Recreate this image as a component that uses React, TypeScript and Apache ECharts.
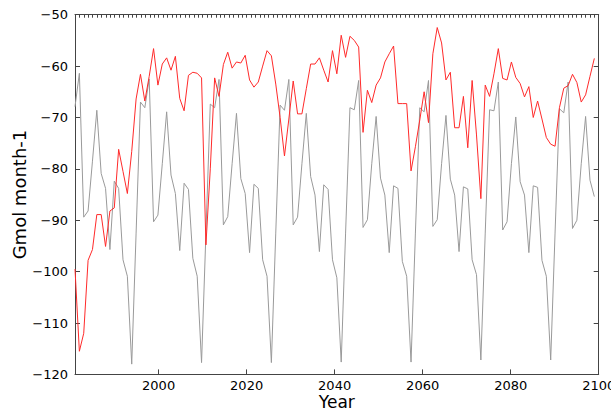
import React, { useEffect, useRef } from "react";
import * as echarts from "echarts";

const START_YEAR = 1981;
const END_YEAR = 2100;

const grayValues = [
  -67.9, -61.4, -89.4, -88.2, -78.5, -68.6, -80.9, -83.8, -95.7, -82.4,
  -83.8, -97.7, -100.9, -118, -92.5, -67, -68.1, -62.5, -90.3, -89,
  -79, -68.9, -81.2, -84.8, -95.9, -82.8, -84, -97.4, -100.9, -117.7,
  -92.5, -67.4, -68.1, -62.6, -90.9, -89.3, -79, -69.2, -81.9, -84.8,
  -96.3, -83, -83.8, -97.7, -100.9, -117.7, -92.5, -67.6, -68.6, -62.6,
  -90.9, -89.4, -79, -69.2, -81.5, -85.1, -96.1, -83.1, -84, -97.7,
  -101.2, -117.6, -92.5, -68.1, -68.5, -62.8, -91.4, -89.9, -79, -69.8,
  -81.8, -85.1, -96.3, -83.3, -83.8, -98, -100.9, -117.6, -92.5, -68.1,
  -68.9, -62.8, -91.2, -89.9, -79, -69.6, -82, -85.1, -96.1, -83.5,
  -83.9, -97.7, -100.6, -117.2, -92.5, -68.5, -68.7, -63.1, -91.9, -90.3,
  -79, -69.9, -82.5, -85.1, -96.3, -83.3, -83.6, -97.8, -100.9, -117.2,
  -92.5, -68.3, -69.1, -63.1, -91.6, -90, -79, -69.8, -82.2, -85.4,
];

const redValues = [
  -99.5, -115.5, -112, -97.8, -95.7, -88.9, -88.9, -95.1, -88.2, -87.6,
  -76.2, -80.5, -84.8, -76.6, -66.4, -61.6, -66.8, -62, -56.6, -63.7,
  -59.6, -58.4, -60.8, -58.1, -66.3, -68.7, -61.8, -61.2, -61.4, -62.3,
  -94.8, -80, -62.3, -65.9, -59.7, -57.3, -60.4, -59.2, -59.4, -57.9,
  -62.7, -64.1, -63.1, -60, -57, -58, -63.5, -70, -77.5, -70.3,
  -62.9, -69.3, -69.3, -64.4, -59.6, -59.6, -58.4, -60.8, -63.1, -57,
  -61.5, -54, -58.3, -54.2, -55, -56.3, -72.9, -64.7, -67.1, -63.7,
  -62.3, -59.2, -57.6, -56.1, -67.3, -67.3, -67.3, -80.4, -75.7, -70.5,
  -65, -71, -57.6, -52.5, -55.5, -62.7, -61.2, -72, -72, -65.9,
  -75.9, -62.8, -73.4, -85.8, -63.7, -65.9, -61.5, -56.6, -62.4, -62.7,
  -59.2, -62.2, -63.4, -66, -64, -70, -66.8, -70.3, -73.9, -75.2,
  -75.6, -68.1, -64.3, -63.8, -61.6, -63.2, -67, -65.6, -62, -58.5,
];

const xTickLabels = [2000, 2020, 2040, 2060, 2080, 2100];
const yMin = -120;
const yMax = -50;
const yStep = 10;

// time stamps of the samples (evenly spaced from START_YEAR, one step short of END_YEAR)
const nPts = grayValues.length;
const years = grayValues.map(
  (_, i) => START_YEAR + (i * (END_YEAR - START_YEAR)) / nPts
);

const FONT = "DejaVu Sans";
const AXIS_COLOR = "#444444";

export default function App() {
  const ref = useRef<HTMLDivElement>(null);
  useEffect(() => {
    if (!ref.current) return;
    const chart = echarts.init(ref.current, undefined, { renderer: "svg" });
    const fmtY = (v: number) => (v < 0 ? "\u2212" + Math.abs(v) : String(v));
    const axisLine = { show: true, lineStyle: { color: AXIS_COLOR, width: 1 } };
    chart.setOption({
      animation: false,
      backgroundColor: "#ffffff",
      textStyle: { fontFamily: FONT },
      grid: {
        left: 75,
        right: 12.3,
        top: 14.7,
        bottom: 38.6,
        containLabel: false,
        outerBoundsMode: "none",
      },
      xAxis: [
        {
          type: "value",
          position: "bottom",
          min: START_YEAR,
          max: END_YEAR,
          axisLine,
          axisTick: {
            show: true,
            inside: true,
            length: 5,
            customValues: xTickLabels,
            lineStyle: { color: AXIS_COLOR },
          },
          axisLabel: {
            customValues: xTickLabels,
            formatter: (v: number) => String(v),
            fontSize: 13,
            color: "#000",
            fontFamily: FONT,
            margin: 5,
          },
          splitLine: { show: false },
          name: "Year",
          nameLocation: "middle",
          nameGap: 19,
          nameMoveOverlap: false,
          nameTextStyle: { fontSize: 17, color: "#000", fontFamily: FONT, lineHeight: 18 },
        },
        {
          type: "value",
          position: "top",
          min: START_YEAR,
          max: END_YEAR,
          interval: 1,
          axisLine,
          axisTick: { show: true, inside: true, length: 3, lineStyle: { color: AXIS_COLOR } },
          axisLabel: { show: false },
          splitLine: { show: false },
        },
      ],
      yAxis: [
        {
          type: "value",
          position: "left",
          min: yMin,
          max: yMax,
          interval: yStep,
          axisLine,
          axisTick: { show: true, inside: true, length: 5, lineStyle: { color: AXIS_COLOR } },
          axisLabel: {
            formatter: fmtY,
            fontSize: 13,
            color: "#000",
            fontFamily: FONT,
            margin: 7,
          },
          splitLine: { show: false },
          name: "Gmol month-1",
          nameLocation: "middle",
          nameGap: 47,
          nameMoveOverlap: false,
          nameTextStyle: { fontSize: 18, color: "#000", fontFamily: FONT },
        },
        {
          type: "value",
          position: "right",
          min: yMin,
          max: yMax,
          interval: yStep,
          axisLine,
          axisTick: { show: true, inside: true, length: 5, lineStyle: { color: AXIS_COLOR } },
          axisLabel: { show: false },
          splitLine: { show: false },
        },
      ],
      series: [
        {
          type: "line",
          xAxisIndex: 0,
          yAxisIndex: 0,
          data: years.map((y, i) => [y, grayValues[i]]),
          showSymbol: false,
          lineStyle: { color: "#9a9a9a", width: 1 },
          itemStyle: { color: "#9a9a9a" },
        },
        {
          type: "line",
          xAxisIndex: 0,
          yAxisIndex: 0,
          data: years.map((y, i) => [y, redValues[i]]),
          showSymbol: false,
          lineStyle: { color: "#ff2a2a", width: 1 },
          itemStyle: { color: "#ff2a2a" },
        },
      ],
    });
    return () => chart.dispose();
  }, []);
  return (
    <div
      ref={ref}
      style={{ position: "fixed", left: 0, top: 0, width: 611, height: 413 }}
    />
  );
}
